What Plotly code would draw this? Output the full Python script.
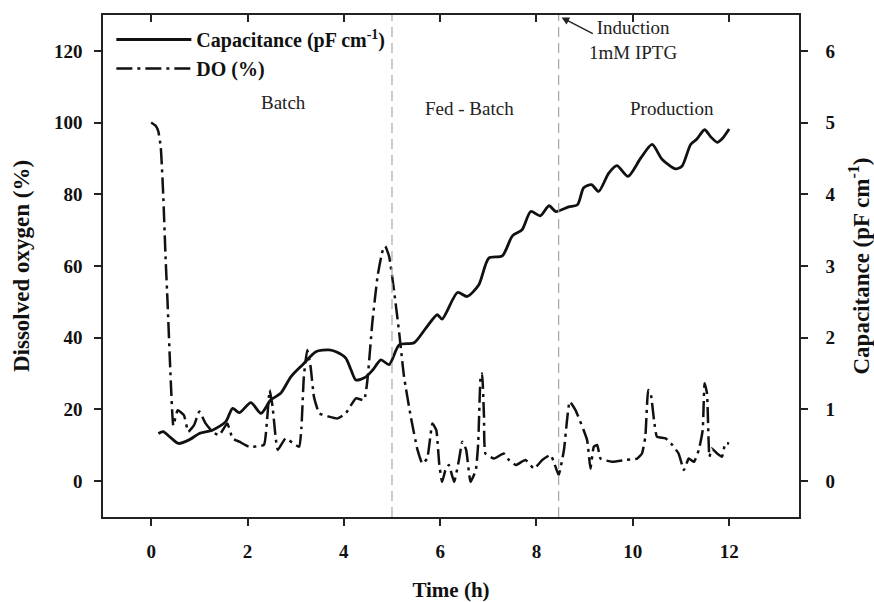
import plotly.graph_objects as go

# ---- data ----
cap_time = [0.15, 0.25, 0.4, 0.57, 0.8, 1.0, 1.27, 1.55, 1.69, 1.83, 2.07, 2.28, 2.48, 2.69, 2.9,
            3.14, 3.42, 3.69, 3.85, 4.04, 4.15, 4.25, 4.45, 4.6, 4.77, 4.94, 5.15, 5.46, 5.70, 5.94,
            6.04, 6.36, 6.56, 6.80, 7.01, 7.29, 7.50, 7.70, 7.88, 8.08, 8.26, 8.40, 8.67, 8.85, 8.98,
            9.14, 9.29, 9.50, 9.67, 9.90, 10.16, 10.40, 10.61, 10.89, 11.02, 11.20, 11.33, 11.49,
            11.62, 11.75, 11.85, 12.0]
capacitance = [0.665, 0.69, 0.61, 0.525, 0.58, 0.665, 0.71, 0.83, 1.015, 0.955, 1.095, 0.945, 1.13,
               1.225, 1.455, 1.62, 1.805, 1.83, 1.80, 1.715, 1.55, 1.41, 1.45, 1.55, 1.69, 1.625, 1.90,
               1.93, 2.13, 2.32, 2.26, 2.63, 2.575, 2.735, 3.11, 3.14, 3.42, 3.505, 3.76, 3.70, 3.84,
               3.76, 3.825, 3.855, 4.09, 4.135, 4.04, 4.295, 4.40, 4.25, 4.50, 4.695, 4.485, 4.355,
               4.39, 4.695, 4.77, 4.90, 4.80, 4.725, 4.77, 4.91]

do_time = [0.0, 0.1, 0.15, 0.2, 0.25, 0.30, 0.34, 0.41, 0.46, 0.55, 0.68, 0.77, 0.89, 1.0, 1.13, 1.27,
           1.41, 1.58, 1.69, 1.83, 2.03, 2.34, 2.40, 2.46, 2.52, 2.59, 2.63, 2.79, 3.07, 3.12, 3.17,
           3.24, 3.31, 3.38, 3.49, 3.69, 3.87, 4.04, 4.25, 4.42, 4.49, 4.59, 4.70, 4.80, 4.86, 4.94,
           5.04, 5.15, 5.25, 5.39, 5.53, 5.63, 5.73, 5.84, 5.92, 5.98, 6.04, 6.11, 6.18, 6.29, 6.39,
           6.46, 6.54, 6.63, 6.74, 6.79, 6.84, 6.87, 6.91, 6.94, 7.12, 7.32, 7.43, 7.57, 7.77, 7.95,
           8.12, 8.29, 8.36, 8.46, 8.57, 8.69, 8.81, 9.05, 9.12, 9.19, 9.26, 9.33, 9.57, 9.85, 10.09,
           10.19, 10.26, 10.32, 10.37, 10.44, 10.50, 10.68, 10.82, 10.95, 11.06, 11.16, 11.27, 11.37,
           11.45, 11.49, 11.54, 11.59, 11.64, 11.75, 11.85, 11.92, 12.0]
do_pct = [100, 99, 97.5, 93, 80, 62, 50, 27, 15.5, 19.8, 18.4, 13.8, 15.6, 19.4, 16.1, 13.8,
          12.8, 16.1, 11.9, 11.0, 9.6, 10.1, 16, 25.4, 20.8, 11.5, 8.7, 11.9, 9.6, 15, 29.1,
          36.6, 31.9, 23.5, 18.9, 18.0, 17.5, 18.9, 23.1, 22.6, 28.2, 44.0, 57.1, 64, 65.5, 62.7,
          53.4, 41.3, 29.1, 18.0, 8.7, 4.9, 6.3, 16.1, 14.2, 4.9, -0.2, 3.1, 4.5, -0.2, 5.9,
          11.0, 8.7, -0.2, 3.1, 10.5, 29, 30, 18.0, 7.7, 6.3, 7.7, 5.9, 4.5, 5.9, 3.5,
          5.9, 7.3, 5.4, 1.7, 8.7, 22.2, 19.8, 11.5, 3.5, 9.6, 10.1, 6.3, 5.4, 5.9, 6.3,
          7.7, 12.4, 25.4, 24.5, 17.0, 12.4, 11.9, 10.1, 7.7, 3.1, 6.3, 5.4, 8.7,
          14.2, 27.3, 24.5, 6.8, 9.1, 7.7, 6.8, 10.5, 10.5]

time_ticks = [0, 2, 4, 6, 8, 10, 12]
do_ticks = [0, 20, 40, 60, 80, 100, 120]
cap_ticks = [0, 1, 2, 3, 4, 5, 6]
phase_bounds = [5.0, 8.46]
phase_labels = ["Batch", "Fed - Batch", "Production"]
phase_label_x = [2.74, 6.61, 10.82]
phase_label_y = [105.5, 103.8, 103.8]

SERIF = "Liberation Serif, Times New Roman, serif"
INK = "#111111"

fig = go.Figure()
fig.add_trace(go.Scatter(
    x=cap_time, y=capacitance, yaxis="y2", mode="lines",
    name="<b>Capacitance (pF cm<sup>-1</sup>)</b>",
    line=dict(color=INK, width=2.8, shape="spline", smoothing=0.7),
))
fig.add_trace(go.Scatter(
    x=do_time, y=do_pct, mode="lines", name="<b>DO (%)</b>",
    line=dict(color=INK, width=2.5, dash="16px,5px,3px,5px", shape="spline", smoothing=0.4),
))
# empty trace that carries the top frame axis
fig.add_trace(go.Scatter(x=[], y=[], xaxis="x2", showlegend=False, hoverinfo="skip"))

for xb in phase_bounds:
    fig.add_shape(type="line", xref="x", yref="paper", x0=xb, x1=xb, y0=0, y1=1,
                  line=dict(color="#a8a8a8", width=1.2, dash="10px,6px"))

for txt, xx, yy in zip(phase_labels, phase_label_x, phase_label_y):
    fig.add_annotation(x=xx, y=yy, text=txt, showarrow=False,
                       font=dict(family=SERIF, size=19, color="#222"))

fig.add_annotation(x=10.0, y=123.0, text="Induction<br>1mM IPTG", showarrow=False,
                   font=dict(family=SERIF, size=19, color="#222"), align="center")
fig.add_annotation(x=8.52, y=129.3, ax=9.2, ay=124.6, axref="x", ayref="y", text="",
                   showarrow=True, arrowhead=2, arrowsize=1.1, arrowwidth=1.4,
                   arrowcolor="#222", standoff=0)

axis_common = dict(showline=True, linecolor="#222", linewidth=1.5, showgrid=False,
                   zeroline=False, ticks="outside", ticklen=7, tickwidth=1.5, tickcolor="#222",
                   automargin=False,
                   tickfont=dict(family=SERIF, size=19, color="#111", weight="bold"))

fig.update_layout(
    width=874, height=602,
    margin=dict(l=103, r=75, t=15, b=85),
    paper_bgcolor="white", plot_bgcolor="white",
    xaxis=dict(range=[-1, 13.45], tickvals=time_ticks, ticklabelstandoff=9,
               title=dict(text="<b>Time (h)</b>", font=dict(family=SERIF, size=21, color="#111"),
                          standoff=22),
               **axis_common),
    xaxis2=dict(range=[-1, 13.45], tickvals=time_ticks, overlaying="x", side="top",
                showline=True, linecolor="#222", linewidth=1.5, showgrid=False, zeroline=False,
                ticks="inside", ticklen=7, tickwidth=1.5, tickcolor="#222",
                showticklabels=False, automargin=False),
    yaxis=dict(range=[-10, 130], tickvals=do_ticks, ticklabelstandoff=8,
               title=dict(text="<b>Dissolved oxygen (%)</b>",
                          font=dict(family=SERIF, size=23, color="#111"), standoff=18),
               **axis_common),
    yaxis2=dict(range=[-0.5, 6.5], tickvals=cap_ticks, overlaying="y", side="right",
                ticklabelstandoff=14,
                title=dict(text="<b>Capacitance (pF cm<sup>-1</sup>)</b>",
                           font=dict(family=SERIF, size=23, color="#111"), standoff=18),
                **axis_common),
    legend=dict(x=0.012, y=0.99, xanchor="left", yanchor="top", bgcolor="rgba(0,0,0,0)",
                font=dict(family=SERIF, size=20, color="#111"), itemwidth=75,
                tracegroupgap=0),
    showlegend=True,
)

fig.write_html("out.html")
